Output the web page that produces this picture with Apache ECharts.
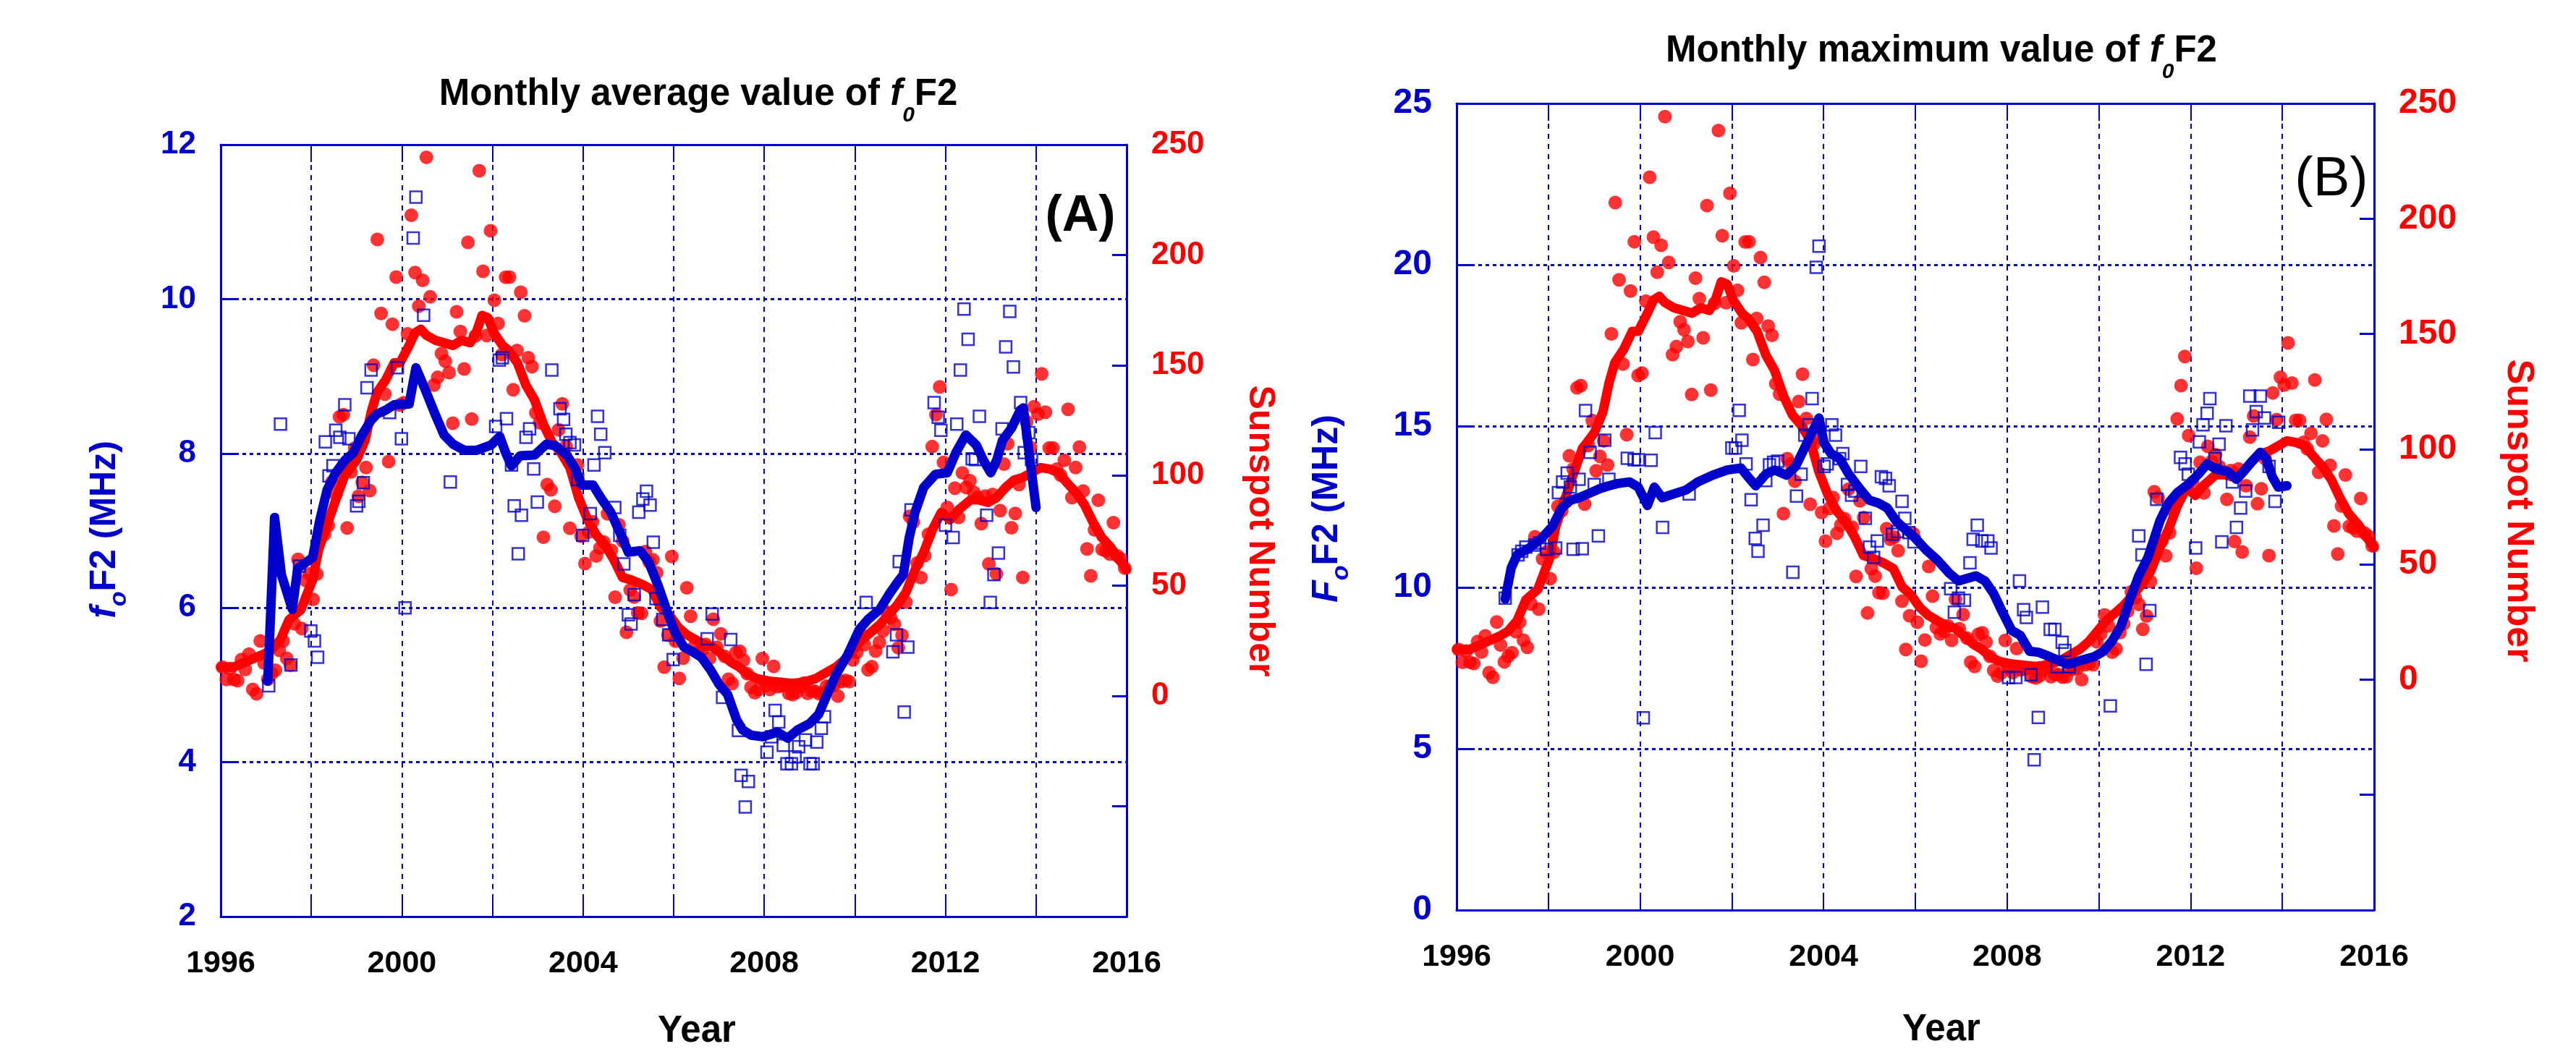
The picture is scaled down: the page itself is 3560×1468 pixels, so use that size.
<!DOCTYPE html>
<html><head><meta charset="utf-8">
<script src="https://cdn.jsdelivr.net/npm/echarts@6/dist/echarts.min.js"></script>
<style>html,body{margin:0;padding:0;background:#fff}#c{width:3560px;height:1468px}</style>
</head><body><div id="c"></div>
<script>
// ---------------- DATA ----------------
const yearTicks = [1996, 2000, 2004, 2008, 2012, 2016];
const sunspotStartYear = 1996;
// monthly sunspot number, Jan 1996 .. Dec 2015
const sunspotMonthly = [
 13.1, 7.5, 12.4, 7.5, 7.0, 16.5, 12.0, 19.0, 3.0, 1.0, 25.0, 15.0,
 7.7, 10.2, 11.7, 20.8, 24.9, 17.1, 14.0, 32.8, 62.0, 30.6, 52.4, 55.4,
 43.8, 55.3, 75.2, 73.3, 77.3, 97.1, 91.4, 126.6, 127.6, 76.2, 101.6, 112.4,
 90.6, 96.9, 103.6, 93.1, 150.0, 207.0, 173.5, 136.9, 106.3, 168.6, 190.0, 132.0,
 133.0, 164.2, 218.0, 192.0, 176.8, 188.5, 244.3, 181.0, 141.0, 144.5, 155.3, 151.8,
 146.7, 123.7, 174.2, 165.3, 148.3, 205.7, 125.6, 163.3, 238.2, 192.6, 163.5, 211.0,
 179.5, 168.9, 154.8, 189.9, 190.0, 138.9, 156.7, 183.1, 172.4, 153.4, 149.4, 128.4,
 123.9, 72.0, 95.9, 93.5, 86.1, 120.7, 132.5, 113.3, 76.1, 102.3, 104.8, 72.5,
 60.1, 74.3, 79.0, 63.5, 67.1, 69.8, 82.6, 66.1, 44.8, 77.6, 70.3, 28.9,
 48.1, 44.9, 37.7, 37.5, 65.5, 60.9, 61.8, 55.9, 34.0, 13.1, 27.7, 63.3,
 24.9, 8.0, 17.2, 49.1, 36.2, 22.6, 19.8, 21.0, 23.4, 17.1, 34.8, 22.1,
 28.2, 18.0, 7.6, 5.7, 19.7, 20.3, 16.3, 10.1, 4.0, 1.5, 2.9, 17.0,
 4.8, 3.0, 13.5, 4.2, 4.6, 4.9, 1.2, 0.7, 1.6, 4.2, 5.9, 1.2,
 2.3, 2.2, 1.1, 1.2, 4.5, 4.5, 5.0, 0.0, 6.5, 7.1, 6.5, 16.4,
 19.8, 28.1, 23.3, 11.9, 13.3, 20.4, 24.3, 29.6, 38.1, 35.5, 32.6, 21.9,
 27.6, 42.6, 81.5, 78.9, 60.3, 53.7, 63.7, 73.4, 113.1, 127.6, 140.2, 105.9,
 85.5, 48.3, 94.3, 81.0, 101.2, 94.6, 97.6, 92.4, 90.1, 78.2, 90.7, 59.9,
 91.4, 55.4, 84.1, 105.2, 114.4, 76.3, 82.8, 95.9, 53.8, 124.4, 112.8, 131.2,
 127.8, 146.1, 128.7, 112.5, 112.5, 102.9, 100.2, 106.9, 130.0, 90.0, 103.6, 112.9,
 93.0, 66.7, 54.5, 75.3, 88.8, 66.5, 65.8, 64.4, 78.6, 63.6, 62.2, 58.0
];
// smoothed sunspot number [year, value]
const sunspotSmooth = [
 [1996.00,13.1],[1996.28,13.1],[1996.67,16.5],[1996.93,18.8],[1997.12,21.0],[1997.32,25.6],[1997.51,34.6],[1997.64,36.9],[1997.77,39.1],[1997.90,46.0],
 [1998.03,52.7],[1998.16,66.3],[1998.35,77.6],[1998.54,88.9],[1998.74,100.2],[1999.00,107.0],[1999.19,116.1],[1999.32,128.5],[1999.45,137.6],[1999.64,143.2],
 [1999.83,151.1],[1999.96,151.1],[2000.16,159.0],[2000.29,164.7],[2000.42,166.3],[2000.54,163.6],[2000.74,161.3],[2000.93,160.2],[2001.13,159.0],[2001.32,161.3],
 [2001.51,160.2],[2001.64,164.7],[2001.77,172.6],[2001.90,171.5],[2002.03,164.7],[2002.22,159.0],[2002.35,156.8],[2002.55,151.1],[2002.74,140.9],[2002.93,134.2],
 [2003.13,122.9],[2003.32,114.9],[2003.51,110.4],[2003.71,103.6],[2003.90,90.0],[2004.10,79.9],[2004.29,73.1],[2004.48,68.6],[2004.68,61.8],[2004.87,53.8],
 [2005.06,52.7],[2005.32,50.5],[2005.52,48.2],[2005.71,40.3],[2005.90,36.9],[2006.10,31.2],[2006.29,27.8],[2006.48,25.6],[2006.68,23.3],[2006.87,22.2],
 [2007.07,18.8],[2007.26,15.4],[2007.45,13.1],[2007.65,9.7],[2007.84,7.9],[2008.10,6.8],[2008.36,6.3],[2008.61,5.7],[2008.87,6.3],[2009.13,7.9],
 [2009.39,10.9],[2009.58,13.1],[2009.78,16.5],[2009.97,21.0],[2010.16,25.6],[2010.36,29.0],[2010.55,32.4],[2010.75,36.9],[2010.94,41.4],[2011.13,47.1],
 [2011.33,57.2],[2011.52,65.2],[2011.71,75.3],[2011.91,83.3],[2012.10,79.9],[2012.29,84.4],[2012.55,88.9],[2012.75,88.9],[2012.94,87.8],[2013.13,90.0],
 [2013.33,94.6],[2013.52,98.0],[2013.71,99.1],[2013.91,101.4],[2014.10,103.6],[2014.30,102.9],[2014.49,101.4],[2014.68,96.8],[2014.88,92.3],[2015.07,86.7],
 [2015.26,78.7],[2015.45,71.9],[2015.65,67.4],[2015.84,61.8],[2016.00,57.2]
];
// (A) monthly average foF2 [year, MHz]
const avgF2Monthly = [
 [1997.06,4.99],[1997.32,8.38],[1997.55,5.26],[1997.74,6.54],[1997.99,5.70],[1998.07,5.57],[1998.14,5.36],[1998.31,8.15],[1998.39,7.71],[1998.48,7.84],
 [1998.54,8.30],[1998.63,8.21],[1998.74,8.63],[1998.83,8.19],[1999.00,7.32],[1999.05,7.38],[1999.15,7.62],[1999.23,8.85],[1999.32,9.08],[1999.73,8.53],
 [1999.90,9.11],[1999.99,8.19],[2000.07,6.00],[2000.25,10.79],[2000.31,11.32],[2000.48,9.79],[2001.07,7.63],[2002.07,8.35],[2002.15,9.21],[2002.22,9.24],
 [2002.31,8.45],[2002.42,7.85],[2002.48,7.32],[2002.57,6.70],[2002.64,7.20],[2002.74,8.21],[2002.82,8.32],[2002.91,7.80],[2002.99,7.37],[2003.31,9.08],
 [2003.49,8.58],[2003.57,8.44],[2003.62,8.25],[2003.71,8.14],[2003.81,8.11],[2003.88,7.66],[2003.99,6.94],[2004.16,7.22],[2004.24,7.85],[2004.32,8.48],
 [2004.39,8.25],[2004.48,8.01],[2004.70,7.30],[2004.81,6.94],[2004.90,6.57],[2005.00,5.91],[2005.06,5.79],[2005.13,6.17],[2005.23,7.24],[2005.32,7.41],
 [2005.40,7.51],[2005.48,7.33],[2005.55,6.85],[2005.61,6.12],[2005.76,5.85],[2005.89,5.65],[2005.99,5.33],[2006.74,5.60],[2006.85,5.92],[2007.08,4.84],
 [2007.26,5.59],[2007.43,4.41],[2007.49,3.83],[2007.58,3.42],[2007.65,3.75],[2008.06,4.13],[2008.16,4.33],[2008.24,4.67],[2008.32,4.52],[2008.42,4.22],
 [2008.50,3.98],[2008.60,3.98],[2008.68,4.07],[2008.76,4.20],[2008.91,4.29],[2009.01,3.98],[2009.08,3.98],[2009.16,4.26],[2009.26,4.44],[2009.33,4.59],
 [2010.25,6.07],[2010.84,5.43],[2010.92,5.65],[2010.98,6.60],[2011.09,4.65],[2011.17,5.49],[2011.24,7.27],[2011.75,8.66],[2011.84,8.47],[2011.90,8.30],
 [2012.00,7.07],[2012.17,6.91],[2012.25,8.38],[2012.33,9.08],[2012.41,9.87],[2012.50,9.48],[2012.59,7.93],[2012.66,7.92],[2012.75,8.48],[2012.91,7.20],
 [2012.99,6.07],[2013.07,6.43],[2013.17,6.71],[2013.25,8.32],[2013.33,9.38],[2013.42,9.84],[2013.50,9.12],[2013.66,8.66],[2013.74,8.01],[2013.84,8.27],[2013.90,7.92]
];
const avgF2Smooth = [
 [1997.04,5.05],[1997.19,7.17],[1997.34,6.43],[1997.58,5.98],[1997.70,6.51],[1998.03,6.65],[1998.19,7.14],[1998.35,7.53],[1998.54,7.75],[1998.74,7.91],
 [1998.93,8.01],[1999.12,8.24],[1999.32,8.43],[1999.45,8.51],[1999.64,8.56],[1999.83,8.63],[2000.16,8.64],[2000.31,9.11],[2000.52,8.82],[2000.74,8.50],
 [2000.93,8.24],[2001.13,8.12],[2001.38,8.04],[2001.64,8.04],[2001.97,8.11],[2002.16,8.22],[2002.29,8.01],[2002.42,7.84],[2002.61,7.97],[2002.93,7.98],
 [2003.19,8.12],[2003.39,8.10],[2003.64,7.98],[2003.84,7.79],[2003.97,7.59],[2004.22,7.59],[2004.42,7.40],[2004.61,7.24],[2004.81,6.98],[2005.00,6.72],
 [2005.26,6.74],[2005.45,6.59],[2005.65,6.30],[2005.84,5.98],[2006.03,5.68],[2006.23,5.49],[2006.42,5.43],[2006.61,5.36],[2006.81,5.20],[2007.00,5.01],
 [2007.19,4.88],[2007.39,4.55],[2007.52,4.42],[2007.71,4.35],[2007.97,4.33],[2008.29,4.39],[2008.52,4.31],[2008.74,4.42],[2009.00,4.50],[2009.20,4.62],
 [2009.39,4.88],[2009.58,5.13],[2009.84,5.39],[2010.10,5.72],[2010.29,5.85],[2010.55,5.98],[2010.75,6.17],[2010.94,6.33],[2011.07,6.43],[2011.20,6.91],
 [2011.33,7.24],[2011.52,7.56],[2011.78,7.73],[2012.04,7.75],[2012.23,8.01],[2012.45,8.24],[2012.68,8.11],[2012.84,7.91],[2013.00,7.75],[2013.13,7.91],
 [2013.26,8.17],[2013.46,8.33],[2013.65,8.56],[2013.72,8.59],[2013.84,8.04],[2014.00,7.30]
];
// (B) monthly maximum foF2 [year, MHz]
const maxF2Monthly = [
 [1997.06,9.67],[1997.34,11.01],[1997.42,11.12],[1997.51,11.25],[1997.70,11.31],[1997.81,11.38],[1997.96,11.18],[1998.16,11.22],[1998.54,11.18],[1998.74,11.20],
 [1999.09,11.60],[1998.22,12.94],[1998.31,13.27],[1998.41,13.54],[1998.48,13.11],[1998.67,13.35],[1998.81,15.48],[1998.91,14.19],[1999.00,13.19],[1999.23,14.56],
 [1999.32,13.35],[1999.72,14.00],[1999.87,13.96],[1999.96,13.96],[2000.07,5.96],[2000.24,13.94],[2000.33,14.80],[2000.49,11.86],[2001.07,12.90],[2002.00,14.32],
 [2002.08,14.32],[2002.16,15.49],[2002.22,14.56],[2002.31,13.83],[2002.42,12.72],[2002.51,11.52],[2002.57,11.12],[2002.68,11.93],[2002.74,13.31],[2002.82,13.80],
 [2002.91,13.88],[2003.00,13.91],[2003.33,10.47],[2003.41,12.83],[2003.51,13.51],[2003.59,14.72],[2003.68,15.04],[2003.75,15.85],[2003.84,19.92],[2003.90,20.58],
 [2004.01,13.75],[2004.08,13.83],[2004.18,15.04],[2004.26,14.72],[2004.35,13.99],[2004.42,14.15],[2004.52,13.19],[2004.61,12.86],[2004.68,12.99],[2004.81,13.75],
 [2004.91,12.14],[2005.00,11.25],[2005.09,10.93],[2005.17,11.44],[2005.26,13.43],[2005.35,13.38],[2005.43,13.15],[2005.50,11.65],[2005.61,11.73],[2005.71,12.67],
 [2005.77,12.14],[2005.86,11.70],[2005.97,11.41],[2006.77,9.96],[2006.85,9.23],[2006.94,9.67],[2007.07,9.60],[2007.19,10.76],[2007.26,11.49],[2007.35,11.93],
 [2007.45,11.44],[2007.58,11.44],[2007.65,11.22],[2008.03,7.21],[2008.19,7.21],[2008.27,10.20],[2008.36,9.31],[2008.42,9.07],[2008.52,7.29],[2008.59,4.66],
 [2008.68,5.97],[2008.77,9.39],[2008.94,8.70],[2009.04,8.70],[2009.09,7.54],[2009.20,8.30],[2009.26,8.05],[2009.35,7.54],[2010.25,6.33],[2010.87,11.60],
 [2010.94,11.01],[2011.03,7.62],[2011.11,9.28],[2011.26,12.73],[2011.78,14.03],[2011.88,13.83],[2011.95,13.51],[2012.11,11.22],[2012.19,14.51],[2012.27,15.04],
 [2012.36,15.40],[2012.42,15.85],[2012.53,13.99],[2012.62,14.44],[2012.68,11.41],[2012.77,15.01],[2012.91,13.27],[2013.00,11.86],[2013.09,12.46],[2013.20,12.99],
 [2013.29,15.93],[2013.35,14.88],[2013.43,15.45],[2013.52,15.93],[2013.61,15.25],[2013.71,13.75],[2013.84,12.67],[2013.92,15.12]
];
const maxF2Smooth = [
 [1997.06,9.64],[1997.19,10.60],[1997.32,11.01],[1997.58,11.22],[1997.83,11.49],[1998.09,11.89],[1998.29,12.46],[1998.48,12.70],[1998.67,12.78],[1998.93,12.94],
 [1999.12,13.06],[1999.32,13.15],[1999.51,13.22],[1999.77,13.27],[1999.96,13.11],[2000.16,12.54],[2000.31,13.11],[2000.48,12.78],[2000.74,12.90],[2001.00,13.02],
 [2001.26,13.27],[2001.58,13.48],[2001.90,13.64],[2002.20,13.70],[2002.35,13.43],[2002.52,13.15],[2002.74,13.51],[2002.93,13.64],[2003.19,13.48],[2003.39,13.75],
 [2003.64,14.48],[2003.80,14.96],[2003.90,15.25],[2004.01,14.48],[2004.16,14.15],[2004.35,13.99],[2004.55,13.51],[2004.81,13.02],[2005.00,12.70],[2005.19,12.62],
 [2005.39,12.46],[2005.58,12.06],[2005.77,11.81],[2005.97,11.57],[2006.23,11.17],[2006.48,10.85],[2006.74,10.44],[2006.94,10.20],[2007.13,10.28],[2007.32,10.36],
 [2007.52,10.20],[2007.71,9.80],[2007.90,9.23],[2008.10,8.67],[2008.29,8.51],[2008.49,8.02],[2008.68,7.99],[2008.87,7.89],[2009.13,7.73],[2009.32,7.62],
 [2009.52,7.70],[2009.71,7.78],[2009.91,7.86],[2010.10,8.02],[2010.29,8.34],[2010.49,8.83],[2010.68,9.64],[2010.87,10.36],[2011.07,10.93],[2011.20,11.49],
 [2011.33,12.06],[2011.52,12.62],[2011.71,12.94],[2011.97,13.22],[2012.17,13.51],[2012.36,13.83],[2012.55,13.67],[2012.81,13.59],[2013.00,13.35],[2013.20,13.67],
 [2013.39,13.99],[2013.52,14.19],[2013.65,13.99],[2013.78,13.43],[2013.91,13.11],[2014.10,13.15]
];

// ---------------- STYLE ----------------
const BLUE = '#0000CC', RED = '#FF0000', FONT = 'Liberation Sans';
const ssnPts = sunspotMonthly.map((v, i) => [sunspotStartYear + (i + 0.5) / 12, v]);

function xAxes(grid, labelSize) {
  return [
    { gridIndex: grid, type: 'value', min: 1996, max: 2016, interval: 2, position: 'bottom',
      axisLine: { onZero: false, lineStyle: { color: BLUE, width: 3 } },
      axisTick: { inside: true, length: 24, lineStyle: { color: BLUE, width: 2 } },
      axisLabel: { interval: 0, margin: 44, color: '#000', fontFamily: FONT, fontWeight: 'bold', fontSize: labelSize,
        formatter: v => yearTicks.indexOf(v) >= 0 ? String(v) : '' },
      splitLine: { show: true, lineStyle: { color: BLUE, width: 2, type: [7, 7] } } },
    { gridIndex: grid, type: 'value', min: 1996, max: 2016, interval: 2, position: 'top',
      axisLine: { onZero: false, lineStyle: { color: BLUE, width: 3 } },
      axisTick: { inside: true, length: 24, lineStyle: { color: BLUE, width: 2 } },
      axisLabel: { show: false }, splitLine: { show: false } }
  ];
}
function yAxes(grid, min, max, step, labelSize) {
  return [
    { gridIndex: grid, type: 'value', min: min, max: max, interval: step, position: 'left',
      axisLine: { show: true, onZero: false, lineStyle: { color: BLUE, width: 3 } },
      axisTick: { show: true, inside: true, length: 22, lineStyle: { color: BLUE, width: 3 } },
      axisLabel: { margin: 34, color: BLUE, fontFamily: FONT, fontWeight: 'bold', fontSize: labelSize },
      splitLine: { show: true, lineStyle: { color: BLUE, width: 3, type: [5, 5] } } },
    { gridIndex: grid, type: 'value', min: -100, max: 250, interval: 50, position: 'right',
      axisLine: { show: true, onZero: false, lineStyle: { color: BLUE, width: 3 } },
      axisTick: { show: true, inside: true, length: 20, lineStyle: { color: BLUE, width: 3 } },
      axisLabel: { margin: 34, color: RED, fontFamily: FONT, fontWeight: 'bold', fontSize: labelSize,
        formatter: v => v >= 0 ? String(v) : '' },
      splitLine: { show: false } }
  ];
}
function seriesFor(xi, yL, yR, monthly, smooth) {
  return [
    { type: 'scatter', xAxisIndex: xi, yAxisIndex: yR, data: ssnPts, symbol: 'circle', symbolSize: 19,
      itemStyle: { color: RED }, z: 2 },
    { type: 'line', xAxisIndex: xi, yAxisIndex: yR, data: sunspotSmooth, showSymbol: false, symbol: 'none',
      lineStyle: { color: RED, width: 13, join: 'round', cap: 'round' }, z: 3 },
    { type: 'scatter', xAxisIndex: xi, yAxisIndex: yL, data: monthly, symbol: 'rect', symbolSize: 16,
      itemStyle: { color: 'rgba(255,255,255,0)', borderColor: BLUE, borderWidth: 2.5 }, z: 4 },
    { type: 'line', xAxisIndex: xi, yAxisIndex: yL, data: smooth, showSymbol: false, symbol: 'none',
      lineStyle: { color: BLUE, width: 13, join: 'round', cap: 'round' }, z: 5 }
  ];
}
function titleText(x, y, main) {
  return { type: 'text', x: x, y: y, style: {
    text: '{a|' + main + '}{i|f}{s|0}{a|F2}', align: 'center', verticalAlign: 'middle',
    rich: {
      a: { fontFamily: FONT, fontSize: 51, fontWeight: 'bold', fill: '#000' },
      i: { fontFamily: FONT, fontSize: 51, fontWeight: 'bold', fontStyle: 'italic', fill: '#000' },
      s: { fontFamily: FONT, fontSize: 30, fontWeight: 'bold', fontStyle: 'italic', fill: '#000', padding: [58, 0, 0, 0] }
    } } };
}
function yName(x, y, first) {
  return { type: 'text', x: x, y: y, rotation: Math.PI / 2, style: {
    text: '{i|' + first + '}{s|o}{a|F2 (MHz)}', align: 'center', verticalAlign: 'middle',
    rich: {
      a: { fontFamily: FONT, fontSize: 50, fontWeight: 'bold', fill: BLUE },
      i: { fontFamily: FONT, fontSize: 50, fontWeight: 'bold', fontStyle: 'italic', fill: BLUE },
      s: { fontFamily: FONT, fontSize: 34, fontWeight: 'bold', fontStyle: 'italic', fill: BLUE, padding: [40, 0, 0, 0] }
    } } };
}
function plain(x, y, text, size, color, weight, rot) {
  return { type: 'text', x: x, y: y, rotation: rot || 0, style: {
    text: text, align: 'center', verticalAlign: 'middle', fill: color,
    fontFamily: FONT, fontSize: size, fontWeight: weight } };
}

const chart = echarts.init(document.getElementById('c'), null, { renderer: 'canvas' });
chart.setOption({
  animation: false,
  backgroundColor: '#fff',
  grid: [
    { left: 305, top: 200, width: 1252, height: 1067, containLabel: false },
    { left: 2013, top: 143, width: 1268, height: 1115, containLabel: false }
  ],
  xAxis: [...xAxes(0, 43), ...xAxes(1, 43)],
  yAxis: [...yAxes(0, 2, 12, 2, 44), ...yAxes(1, 0, 25, 5, 48)],
  series: [...seriesFor(0, 0, 1, avgF2Monthly, avgF2Smooth), ...seriesFor(2, 2, 3, maxF2Monthly, maxF2Smooth)],
  graphic: [
    titleText(965, 131, 'Monthly average value of '),
    titleText(2683, 71, 'Monthly maximum value of '),
    plain(1493, 300, '(A)', 70, '#000', 'bold'),
    plain(3222, 249, '(B)', 76, '#000', 'normal'),
    plain(963, 1426, 'Year', 51, '#000', 'bold'),
    plain(2683, 1424, 'Year', 51, '#000', 'bold'),
    yName(145, 732, 'f'),
    yName(1834, 703, 'F'),
    plain(1741, 734, 'Sunspot Number', 50, RED, 'bold', -Math.PI / 2),
    plain(3480, 706, 'Sunspot Number', 52, RED, 'bold', -Math.PI / 2)
  ]
});
</script></body></html>
